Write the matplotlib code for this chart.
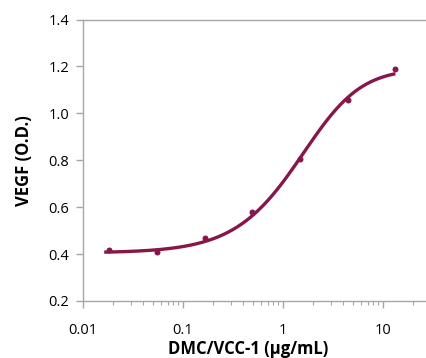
import numpy as np
import matplotlib
matplotlib.use("Agg")
import matplotlib.pyplot as plt
from matplotlib.ticker import LogLocator, FixedLocator, FixedFormatter, NullFormatter

# Data
conc = [0.0183, 0.0549, 0.165, 0.494, 1.48, 4.44, 13.3]
vegf = [0.417, 0.411, 0.467, 0.579, 0.806, 1.055, 1.19]

# 5-parameter logistic fit
fit_bottom = 0.405
fit_top = 1.19
fit_c = 2.51
fit_b = 1.2
fit_g = 1.7
fit_range = (0.0163, 13.3)

xticks = [0.01, 0.1, 1, 10]
xtick_labels = ["0.01", "0.1", "1", "10"]
yticks = [0.2, 0.4, 0.6, 0.8, 1.0, 1.2, 1.4]
ytick_labels = ["0.2", "0.4", "0.6", "0.8", "1.0", "1.2", "1.4"]

color = "#87164a"
gray = "#a6a6a6"

plt.rcParams['font.family'] = ['Open Sans', 'DejaVu Sans']

fig = plt.figure(figsize=(4.27, 3.58), dpi=100)
ax = fig.add_axes([83/427, 57/358, 1 - 83/427, (301 - 19.5)/358])

xs = np.logspace(np.log10(fit_range[0]), np.log10(fit_range[1]), 300)
ys = fit_top + (fit_bottom - fit_top) / (1 + (xs / fit_c) ** fit_b) ** fit_g
ax.plot(xs, ys, color=color, lw=2.4, solid_capstyle='butt', zorder=2)
ax.plot(conc, vegf, 'o', color=color, ms=4.3, mec='none', zorder=3)

ax.set_xscale('log')
ax.set_xlim(0.01, 10 ** 1.44)
ax.set_ylim(0.2, 1.4)

ax.xaxis.set_major_locator(FixedLocator(xticks))
ax.xaxis.set_major_formatter(FixedFormatter(xtick_labels))
ax.xaxis.set_minor_locator(LogLocator(base=10, subs=np.arange(2, 10)))
ax.xaxis.set_minor_formatter(NullFormatter())
ax.yaxis.set_major_locator(FixedLocator(yticks))
ax.yaxis.set_major_formatter(FixedFormatter(ytick_labels))

ax.spines['right'].set_visible(False)
for s in ['left', 'bottom', 'top']:
    ax.spines[s].set_color(gray)
    ax.spines[s].set_linewidth(1.0)

ax.tick_params(axis='x', which='major', direction='out', length=5, width=1, color=gray,
               labelsize=10.5, pad=11, labelcolor='black')
ax.tick_params(axis='x', which='minor', direction='out', length=3, width=0.8, color=gray)
ax.tick_params(axis='y', which='major', direction='out', length=5, width=1, color=gray,
               labelsize=10.5, pad=5, labelcolor='black')

ax.set_xlabel("DMC/VCC-1 (µg/mL)", fontsize=12, fontweight='bold')
ax.xaxis.set_label_coords((248.5 - 83) / (427 - 83), -(340 - 301) / (301 - 19.5))
ax.set_ylabel("VEGF (O.D.)", fontsize=12, fontweight='bold')
ax.yaxis.set_label_coords(-(83 - 33) / (427 - 83), 0.5)

fig.savefig("out.png", dpi=100)
